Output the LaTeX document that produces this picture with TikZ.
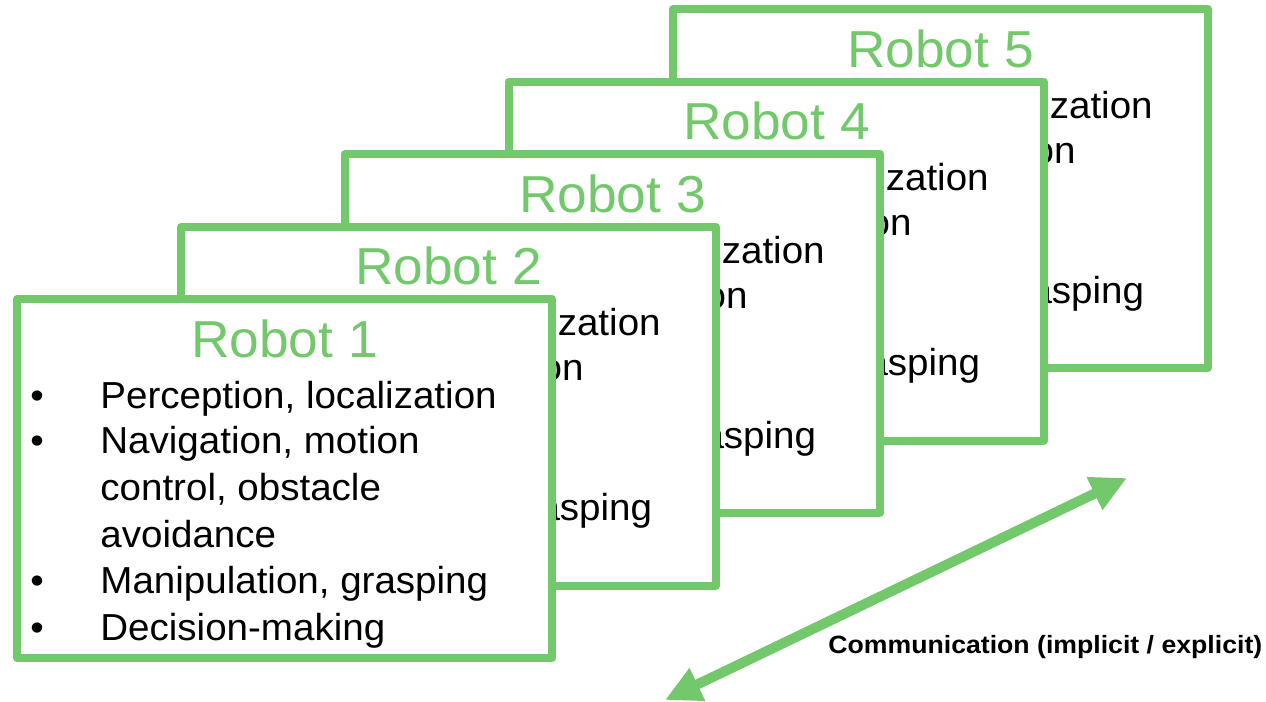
\documentclass[tikz,border=0pt]{standalone}
\usepackage{fontspec}
\setmainfont[FakeStretch=1.025]{Liberation Sans}
\newfontfamily\lblfont[FakeStretch=1.066]{Liberation Sans}
\usetikzlibrary{arrows.meta}
\definecolor{rgreen}{RGB}{116,200,108}
\begin{document}
\begin{tikzpicture}[x=0.5pt,y=-0.5pt,
  card/.style={draw=rgreen, line width=4pt, fill=white, line join=round, inner sep=0pt, outer sep=0pt, minimum width=267.5pt, minimum height=179.5pt, anchor=north west},
  title/.style={text=rgreen, font=\fontsize{26}{30}\selectfont, anchor=base, inner sep=0pt},
  item/.style={font=\fontsize{18.8}{22}\selectfont, anchor=base west, inner sep=0pt},
  dot/.style={font=\fontsize{18.8}{22}\selectfont, anchor=base, inner sep=0pt},
  comm/.style={draw=rgreen, line width=5pt, {Triangle[length=18pt,width=17pt]}-{Triangle[length=18pt,width=17pt]}},
  lbl/.style={font=\lblfont\bfseries\fontsize{12.5}{15}\selectfont, anchor=base west, inner sep=0pt}]
\useasboundingbox (0,0) rectangle (1266,702);
\foreach \i in {5,4,3,2,1}{
  \begin{scope}[shift={({(\i-1)*164},{(\i-1)*(-72.5)})}]
    \node[card] (box\i) at (17,299) {};
    \node[title] (title\i) at (284.5,357) {Robot \i};
    \node[dot] (dot\i-1) at (37,408) {•};
    \node[item] (line\i-1) at (100,408) {Perception, localization};
    \node[dot] (dot\i-2) at (37,453) {•};
    \node[item] (line\i-2) at (100,453) {Navigation, motion};
    \node[item] (line\i-3) at (100,500) {control, obstacle};
    \node[item] (line\i-4) at (100,547) {avoidance};
    \node[dot] (dot\i-3) at (37,593) {•};
    \node[item] (line\i-5) at (100,593) {Manipulation, grasping};
    \node[dot] (dot\i-4) at (37,640) {•};
    \node[item] (line\i-6) at (100,640) {Decision-making};
  \end{scope}
}
\coordinate (commA) at (665,700);
\coordinate (commB) at (1127,478);
\draw[comm] (commA) -- (commB);
\node[lbl] (commlabel) at (828,653) {Communication (implicit / explicit)};
\end{tikzpicture}
\end{document}
